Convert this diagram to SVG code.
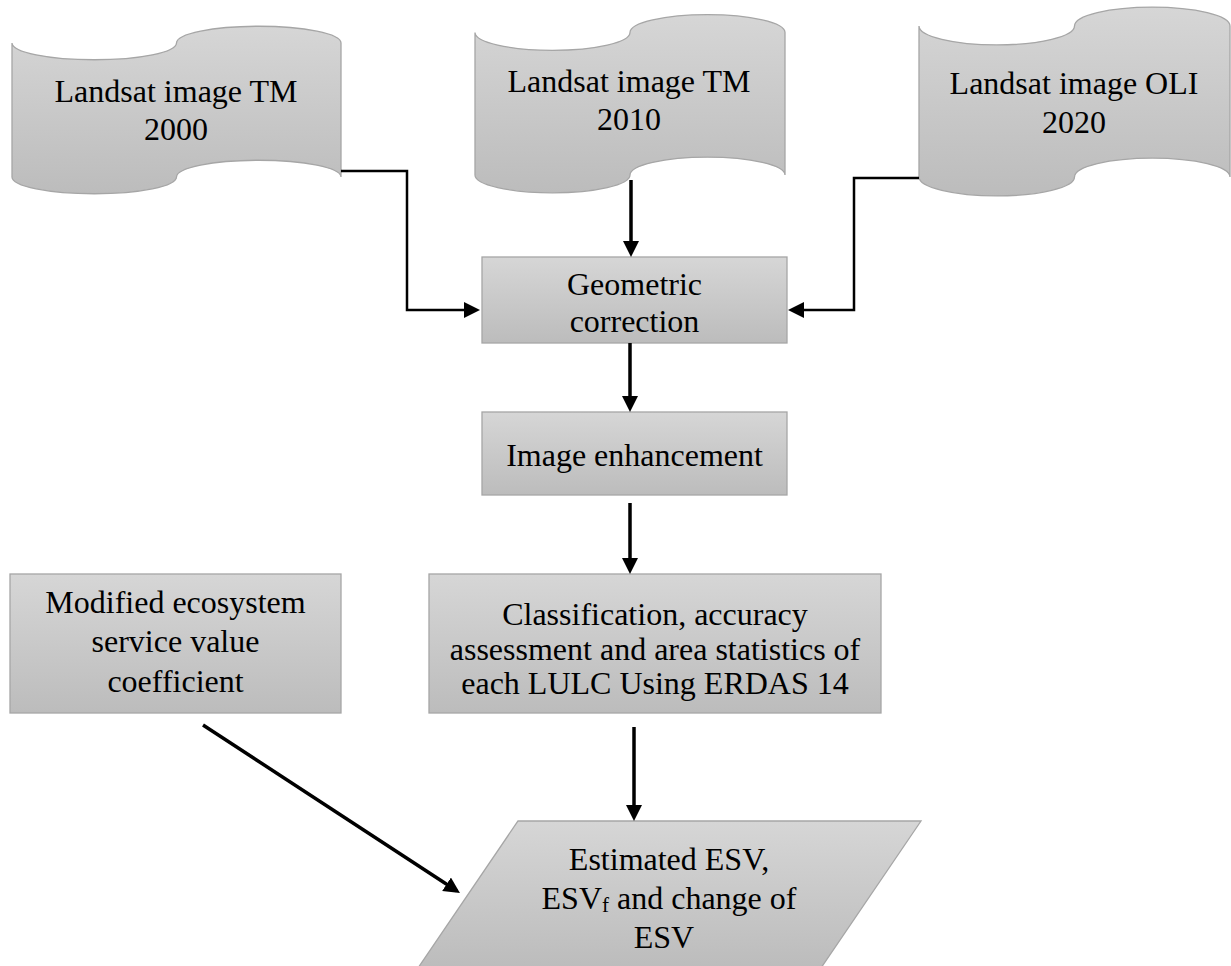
<svg xmlns="http://www.w3.org/2000/svg" width="1231" height="966" viewBox="0 0 1231 966">
<defs>
<linearGradient id="g" x1="0" y1="0" x2="0" y2="1">
<stop offset="0" stop-color="#d6d6d6"/>
<stop offset="1" stop-color="#bcbcbc"/>
</linearGradient>
<marker id="ah" markerUnits="userSpaceOnUse" markerWidth="17" markerHeight="17" refX="12" refY="8" orient="auto">
<path d="M0,0 L16,8 L0,16 Z" fill="#000"/>
</marker>
</defs>
<style>
.shape{fill:url(#g);stroke:#a6a6a6;stroke-width:1.3}
.t{font-family:"Liberation Serif","Times New Roman",serif;font-size:32px;fill:#000;text-anchor:middle}
.c{fill:none;stroke:#000;stroke-width:3.5}
.e{fill:none;stroke:#000;stroke-width:2.5}
</style>
<rect width="1231" height="966" fill="#fff"/>
<g id="tape2000">
<path class="shape" d="M12,43 A82.25,16.75 0 0 0 176.5,43 A82.25,16.75 0 0 1 341,43 L341,177 A82.25,16.75 0 0 0 176.5,177 A82.25,16.75 0 0 1 12,177 Z"/>
<text class="t" x="176" y="102">Landsat image TM</text>
<text class="t" x="176" y="140">2000</text>
</g>
<g id="tape2010">
<path class="shape" d="M475,32.5 A77.5,17.8 0 0 0 630,32.5 A77.5,17.8 0 0 1 785,32.5 L785,175 A77.5,17.8 0 0 0 630,175 A77.5,17.8 0 0 1 475,175 Z"/>
<text class="t" x="629" y="92">Landsat image TM</text>
<text class="t" x="629" y="130">2010</text>
</g>
<g id="tape2020">
<path class="shape" d="M919,26 A77.75,18.9 0 0 0 1074.5,26 A77.75,18.9 0 0 1 1230,26 L1230,177 A77.75,18.9 0 0 0 1074.5,177 A77.75,18.9 0 0 1 919,177 Z"/>
<text class="t" x="1074" y="94">Landsat image OLI</text>
<text class="t" x="1074" y="133">2020</text>
</g>
<g id="geometric">
<rect class="shape" x="482" y="257" width="305" height="86"/>
<text class="t" x="634.5" y="295">Geometric</text>
<text class="t" x="634.5" y="332">correction</text>
</g>
<g id="enhancement">
<rect class="shape" x="482" y="412" width="305" height="83"/>
<text class="t" x="634.5" y="466">Image enhancement</text>
</g>
<g id="modified">
<rect class="shape" x="10" y="574" width="331" height="139"/>
<text class="t" x="175.5" y="613">Modified ecosystem</text>
<text class="t" x="175.5" y="652">service value</text>
<text class="t" x="175.5" y="692">coefficient</text>
</g>
<g id="classification">
<rect class="shape" x="429" y="574" width="452" height="139"/>
<text class="t" x="655" y="625">Classification, accuracy</text>
<text class="t" x="655" y="660">assessment and area statistics of</text>
<text class="t" x="655" y="694">each LULC Using ERDAS 14</text>
</g>
<g id="esv">
<path class="shape" d="M518,821 L921,821 L821,968 L418,968 Z"/>
<text class="t" x="669" y="870">Estimated ESV,</text>
<text class="t" x="669" y="909">ESV<tspan font-size="21" dy="3">f</tspan><tspan dy="-3"> and change of</tspan></text>
<text class="t" x="664" y="948">ESV</text>
</g>
<g id="connectors">
<path class="c" d="M631,180 L631,253" marker-end="url(#ah)"/>
<path class="c" d="M630,343 L630,408" marker-end="url(#ah)"/>
<path class="c" d="M630,503 L630,570" marker-end="url(#ah)"/>
<path class="c" d="M634,727 L634,817" marker-end="url(#ah)"/>
<path class="c" d="M203,725 L456.6,890.8" marker-end="url(#ah)"/>
<path class="e" d="M341,171 L407,171 L407,310 L476,310" marker-end="url(#ah)"/>
<path class="e" d="M919,178 L854,178 L854,310 L792,310" marker-end="url(#ah)"/>
</g>
</svg>
